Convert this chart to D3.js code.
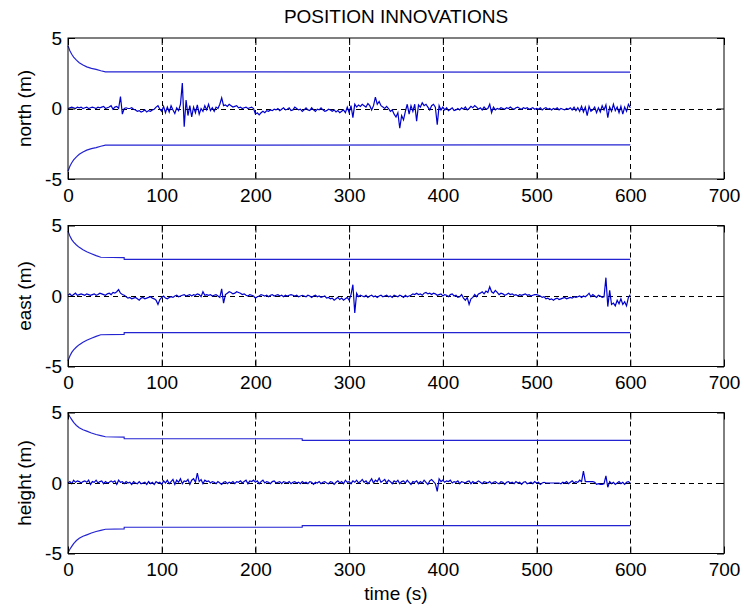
<!DOCTYPE html>
<html>
<head>
<meta charset="utf-8">
<script src="https://cdn.jsdelivr.net/npm/d3@7"></script>
<style>
  body { margin: 0; background: #fff; }
  text { font-family: "Liberation Sans", Arial, sans-serif; }
</style>
</head>
<body>
<div class="canvas"></div>
<script>
// Axis ticks
const xTicks = [0, 100, 200, 300, 400, 500, 600, 700];
const yTicks = [-5, 0, 5];

// Filter sigma bounds (step changes duplicated on purpose)
const northBoundTime = [0, 2, 4, 6, 9, 12, 16, 20, 25, 30, 35, 40, 600];
const northUpper = [4.45, 4.1, 3.85, 3.65, 3.43, 3.25, 3.08, 2.95, 2.85, 2.77, 2.68, 2.6, 2.58];
const northLower = [-4.45, -4.1, -3.85, -3.65, -3.43, -3.25, -3.08, -2.95, -2.85, -2.77, -2.68, -2.6, -2.58];

const eastBoundTime = [0, 2, 4, 6, 9, 12, 16, 20, 25, 30, 35, 59.9, 60, 600];
const eastUpper = [4.6, 4.25, 4.0, 3.82, 3.62, 3.45, 3.28, 3.14, 3.0, 2.86, 2.75, 2.72, 2.6, 2.6];
const eastLower = [-4.6, -4.25, -4.0, -3.82, -3.62, -3.45, -3.28, -3.14, -3.0, -2.86, -2.75, -2.72, -2.6, -2.6];

const heightBoundTime = [0, 2, 4, 6, 9, 12, 16, 20, 25, 30, 35, 40, 59.9, 60, 249.9, 250, 600];
const heightUpper = [4.95, 4.7, 4.5, 4.3, 4.08, 3.92, 3.78, 3.68, 3.55, 3.44, 3.36, 3.28, 3.25, 3.14, 3.14, 3.03, 3.03];
const heightLower = [-4.95, -4.7, -4.5, -4.3, -4.08, -3.92, -3.78, -3.68, -3.55, -3.44, -3.36, -3.28, -3.25, -3.14, -3.14, -3.03, -3.03];

// Innovations, one sample every 2 s from 0 to 600
const innovTime = d3.range(0, 601, 2);

const northInnov = [
  0, .05, .1, .05, 0, .1, .05, .1, 0, .05, .1, 0, .05, .1, .05, 0, .1, .05, .1, .15, 0, .05, .1, .2, -.05,
  .1, .15, 0, .85, -.4, 0, .05, 0, 0, .05, -.05, -.1, -.2, -.15, -.25, -.2, -.1, -.25, -.15, -.2, -.1, -.05, .1, .2, -.05,
  -.2, .15, -.3, .1, -.25, .2, -.1, -.35, .05, -.15, .3, 1.8, -1.3, .6, -.5, .2, -.6, .1, -.3, .25, -.4, 0, -.2, .2, -.1,
  .3, -.15, .05, -.2, .1, 0, .3, .75, .2, .25, .15, .3, .2, .1, .15, .2, .05, .1, 0, .05, .1, 0, .05, .1, 0,
  -.4, -.3, -.45, -.3, -.2, -.3, -.15, -.2, -.1, -.15, -.05, -.1, 0, -.15, -.05, .05, -.1, -.05, .05, -.15, -.1, .1, 0, -.1, -.05,
  -.2, -.1, .05, -.1, -.15, .05, -.1, -.2, -.05, -.1, .05, -.1, -.2, -.15, -.05, -.1, -.2, -.1, -.25, -.15, -.3, -.2, -.1, -.3, .1,
  -.3, .2, -.65, .3, .1, .25, .15, .3, .2, .1, .35, .2, -.1, .2, .8, .3, .5, .2, .1, 0, .15, 0, -.2, -.1, -.4,
  -.6, -.3, -1.4, -.5, -.8, -.2, .3, -.4, .2, -.2, .3, -.9, .25, .1, .4, .2, .3, .1, -.1, .2, .3, .1, -1.15, .2, -.1,
  .1, -.1, .05, -.15, -.05, .05, -.15, -.1, 0, -.1, .05, -.05, .1, -.1, 0, .15, .05, .2, .1, -.05, .05, -.1, .1, -.05, 0,
  .3, -.3, .1, -.1, 0, -.05, .05, 0, -.05, .05, 0, .1, 0, -.05, .05, .1, 0, -.05, .05, 0, .05, -.05, 0, .05, -.05,
  0, -.05, .05, -.1, 0, .05, -.05, 0, -.1, 0, -.05, .05, -.1, 0, -.05, -.1, 0, -.05, .05, -.1, .1, -.15, .05, -.2, .15,
  -.25, .1, -.5, .15, -.2, -.1, .1, -.3, .05, -.25, .2, -.1, .25, -.65, .1, -.2, .3, -.15, .1, -.3, .15, -.4, .1, -.2, .3,
  .05
];

const eastInnov = [
  .05, .15, 0, .1, .2, .05, .1, .15, .1, .05, .15, .1, .05, .1, .15, .05, .1, .2, .15, .1, .05, .15, .2, .1, .25,
  .2, .3, .45, .2, .1, .05, -.05, -.15, -.1, -.2, -.15, -.1, -.2, -.3, -.15, -.1, -.2, -.15, -.1, -.05, -.15, -.2, -.3, -.6, -.25,
  -.1, 0, -.15, -.2, -.1, -.05, -.1, 0, .05, -.05, 0, .05, .1, 0, .05, .1, 0, .1, .05, .15, .1, -.05, .3, .05, .1,
  .05, .1, 0, .05, .1, 0, -.1, .5, -.5, .1, .2, .3, .25, .15, .2, .3, .25, .2, .1, .15, .05, 0, .1, .05, 0,
  -.15, -.05, 0, .1, .05, 0, .05, -.05, .05, .1, 0, .05, .1, 0, .05, -.05, .05, 0, .05, .1, .05, 0, .05, -.05, 0,
  .05, 0, -.05, .05, 0, -.1, 0, .05, -.05, 0, -.1, -.05, 0, -.15, -.1, -.2, -.15, -.3, -.2, -.1, -.25, -.15, -.3, -.2, -.1,
  -.3, .1, .8, -1.2, .2, -.05, .05, 0, -.05, .05, -.1, 0, .05, -.05, 0, -.1, 0, .05, -.05, 0, .05, -.05, 0, -.1, .05,
  0, -.05, .05, 0, -.1, .05, -.05, 0, .05, .15, .1, .2, .1, .15, .05, .2, .25, .15, .2, .1, .2, .15, .05, .1, .15,
  0, .1, .05, -.05, .1, .15, 0, .05, -.1, -.05, .1, -.15, -.3, -.1, -.6, -.2, -.1, .1, -.05, .15, .2, .3, .15, .35, .25,
  .65, .3, .2, .4, .25, .1, .2, .15, .05, .1, .2, .1, .15, .05, .1, 0, .1, .05, .1, .15, .05, .1, 0, .05, .1,
  .1, .05, 0, -.1, -.05, -.2, -.15, -.25, -.2, -.3, -.2, -.15, -.25, -.2, -.15, -.1, -.2, -.15, -.1, -.15, -.05, -.1, -.05, 0, -.1,
  0, -.05, .05, .2, -.05, .1, 0, -.1, .05, 0, -.1, -.05, 1.3, -.75, .4, -.6, -.5, -.7, -.3, -.55, -.2, -.6, -.4, -.7, -.1,
  .1
];

const heightInnov = [
  0, .1, -.05, .2, .05, .15, .1, 0, .1, .15, .05, .2, -.1, .1, .05, .2, 0, .1, .15, -.05, .1, 0, .05, .15, .05,
  .15, -.1, .2, .05, .1, -.05, .1, 0, .05, -.1, .1, 0, -.05, .1, -.05, 0, .05, -.1, .1, -.05, .05, -.1, .1, 0, .05,
  -.1, .15, 0, .2, -.05, .1, .25, -.1, .2, .05, .3, -.05, .15, .1, .25, -.1, .2, .3, .05, .7, .1, .25, -.05, .2, .1,
  .15, 0, .1, .05, -.05, .1, 0, -.1, .05, .1, -.05, .05, 0, .1, -.05, .1, .05, .15, 0, .1, .2, -.05, .15, .1, .2,
  .05, .15, -.05, .1, .2, 0, .1, .05, -.05, .1, .15, 0, .05, .1, -.05, .1, .05, 0, .1, -.05, .05, .1, 0, .05, -.05,
  .1, 0, .05, -.05, .1, .05, -.1, .05, 0, .1, -.05, .05, .1, 0, -.05, .1, .05, -.1, .05, .15, 0, .1, -.05, .2, .05,
  .1, -.05, .15, .05, .2, 0, .1, .25, .05, .15, -.05, .1, .3, 0, .2, .1, .35, .05, .15, .25, 0, .2, .1, -.05, .15,
  .05, .2, -.05, .1, .15, 0, .2, .05, -.1, .1, .05, .15, -.05, .1, 0, .2, .05, -.1, .15, .25, .1, -.05, -.6, .3, .1,
  .2, .05, .15, .1, .2, 0, .1, .05, .15, -.05, .1, .05, 0, .1, .15, -.05, .1, 0, .05, .15, .05, -.05, .1, .05, 0,
  .1, -.05, .05, .1, 0, -.05, .1, .05, -.1, .05, .1, 0, .05, -.05, .1, 0, .05, -.1, .05, .1, -.05, 0, .05, -.05, .1,
  0, .05, -.1, 0, .05, 0, 0, 0, 0, 0, 0, 0, 0, -.05, .05, 0, .1, -.05, .05, .15, 0, .1, .05, .2, .1,
  .85, .1, .1, .1, .1, .1, .05, -.1, -.05, -.1, -.1, -.05, .5, -.3, .1, -.05, .05, -.1, 0, .1, -.05, .05, -.1, .05, .1,
  0
];

const panels = [
  {label: 'north (m)', top: 38, innov: northInnov, boundTime: northBoundTime, upper: northUpper, lower: northLower},
  {label: 'east (m)', top: 225.5, innov: eastInnov, boundTime: eastBoundTime, upper: eastUpper, lower: eastLower},
  {label: 'height (m)', top: 412.5, innov: heightInnov, boundTime: heightBoundTime, upper: heightUpper, lower: heightLower}
];

const outerWidth = 744;
const outerHeight = 613;
const margin = {left: 68, right: 20};
const panelHeight = 141;
const fontSize = 19;
const lineColor = '#0000cc';
const boundColor = '#2323d2';

const svg = d3.select('.canvas')
    .append('svg')
    .attr('width', outerWidth)
    .attr('height', outerHeight);

const x = d3.scaleLinear()
    .domain([0, 700])
    .range([margin.left, outerWidth - margin.right]);

// Plain hyphen minus, as in the original
const tickText = d => String(d);

// Title
svg.append('text')
    .attr('x', (x(0) + x(700)) / 2)
    .attr('y', 23)
    .attr('text-anchor', 'middle')
    .attr('font-size', fontSize)
    .text('POSITION INNOVATIONS');

panels.forEach(p => {
    const y = d3.scaleLinear()
        .domain([-5, 5])
        .range([p.top + panelHeight, p.top]);

    const g = svg.append('g');

    // Dashed grid
    g.selectAll('.vgrid')
        .data(xTicks.slice(1, -1))
        .enter()
        .append('line')
        .attr('x1', d => Math.round(x(d)) + 0.5)
        .attr('x2', d => Math.round(x(d)) + 0.5)
        .attr('y1', y(5))
        .attr('y2', y(-5))
        .attr('stroke', '#000')
        .attr('stroke-dasharray', '5,4');

    g.append('line')
        .attr('x1', x(0))
        .attr('x2', x(700))
        .attr('y1', Math.round(y(0)) + 0.5)
        .attr('y2', Math.round(y(0)) + 0.5)
        .attr('stroke', '#000')
        .attr('stroke-dasharray', '5,4');

    // Sigma bounds
    const boundLine = vals => d3.line()
        .x((d, i) => x(p.boundTime[i]))
        .y((d, i) => y(vals[i]));

    [p.upper, p.lower].forEach(vals => {
        g.append('path')
            .datum(vals)
            .attr('fill', 'none')
            .attr('stroke', boundColor)
            .attr('stroke-width', 1.2)
            .attr('d', boundLine(vals));
    });

    // Innovation trace
    const line = d3.line()
        .x((d, i) => x(innovTime[i]))
        .y(d => y(d));

    g.append('path')
        .datum(p.innov)
        .attr('fill', 'none')
        .attr('stroke', lineColor)
        .attr('stroke-width', 1.2)
        .attr('d', line);

    // Axes with inward ticks
    const bottom = g.append('g')
        .attr('transform', `translate(0, ${y(-5)})`)
        .call(d3.axisBottom(x).tickValues(xTicks).tickFormat(tickText)
            .tickSizeInner(-7).tickSizeOuter(0).tickPadding(9.5));

    const topAxis = g.append('g')
        .attr('transform', `translate(0, ${y(5)})`)
        .call(d3.axisTop(x).tickValues(xTicks).tickSizeInner(-7).tickSizeOuter(0).tickFormat(''));

    const left = g.append('g')
        .attr('transform', `translate(${x(0)}, 0)`)
        .call(d3.axisLeft(y).tickValues(yTicks).tickFormat(tickText)
            .tickSizeInner(-7).tickSizeOuter(0).tickPadding(6));

    const right = g.append('g')
        .attr('transform', `translate(${x(700)}, 0)`)
        .call(d3.axisRight(y).tickValues(yTicks).tickSizeInner(-7).tickSizeOuter(0).tickFormat(''));

    [bottom, topAxis, left, right].forEach(a => {
        a.select('.domain').remove();
        a.selectAll('text')
            .attr('font-size', fontSize)
            .attr('font-family', '"Liberation Sans", Arial, sans-serif')
            .attr('fill', '#000');
    });

    // Box
    g.append('rect')
        .attr('x', x(0))
        .attr('y', y(5))
        .attr('width', x(700) - x(0))
        .attr('height', panelHeight)
        .attr('fill', 'none')
        .attr('stroke', '#000');

    // Y label
    g.append('text')
        .attr('transform', `translate(31, ${y(0)}) rotate(-90)`)
        .attr('text-anchor', 'middle')
        .attr('font-size', fontSize)
        .text(p.label);
});

// X label
svg.append('text')
    .attr('x', (x(0) + x(700)) / 2)
    .attr('y', 600)
    .attr('text-anchor', 'middle')
    .attr('font-size', fontSize)
    .text('time (s)');
</script>
</body>
</html>
